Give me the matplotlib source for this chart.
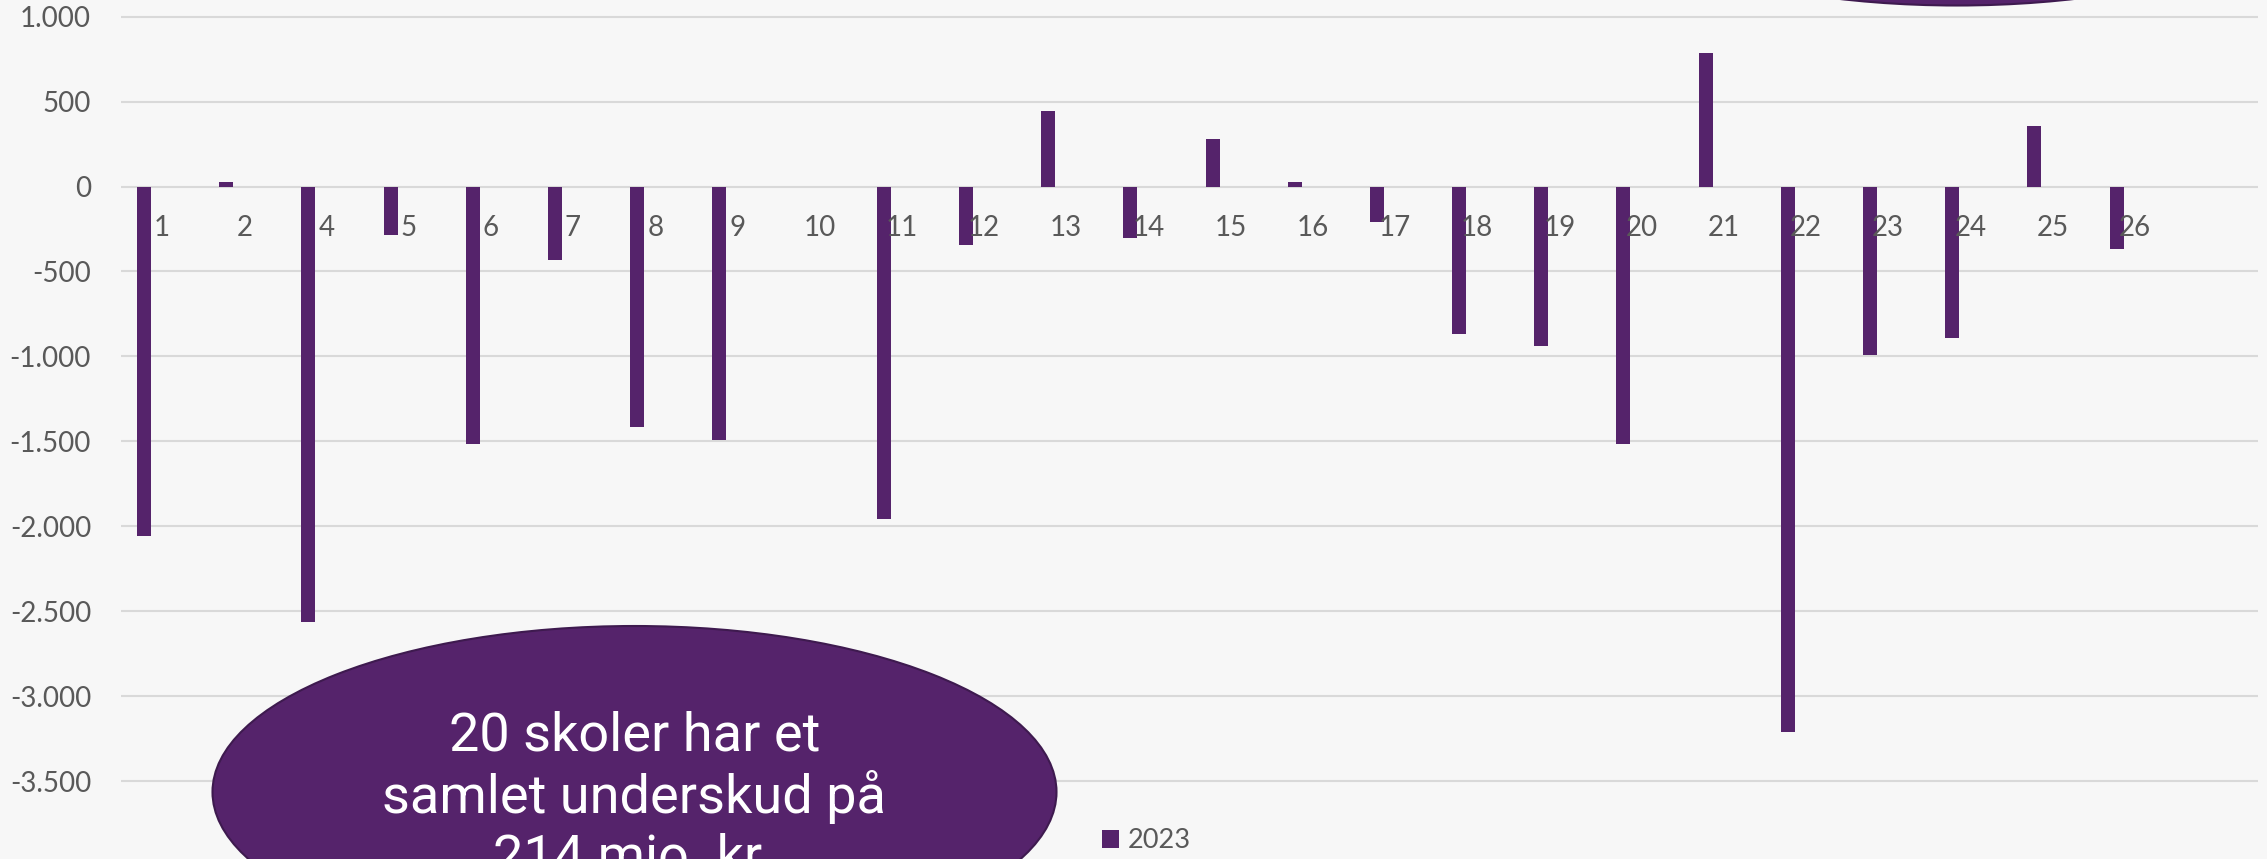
import numpy as np
import matplotlib.pyplot as plt
from matplotlib.patches import Ellipse

# skolenumre (3 mangler i originalen) og resultat 2023
skoler = ["1", "2", "4", "5", "6", "7", "8", "9", "10", "11", "12", "13", "14",
          "15", "16", "17", "18", "19", "20", "21", "22", "23", "24", "25", "26"]
aar_2023 = [-2056, 25, -2562, -285, -1518, -432, -1418, -1494, 0, -1960, -342, 444,
            -302, 280, 27, -207, -869, -937, -1513, 784, -3213, -992, -892, 357, -370]
y_ticks = list(range(-3500, 1001, 500))

lilla = "#55236B"
lilla_kant = "#3E1A4F"
tekst_graa = "#595959"
baggrund = "#F7F7F7"

plt.rcParams['font.family'] = ['Lato', 'DejaVu Sans']

W, H = 2267, 859
fig = plt.figure(figsize=(W / 100, H / 100), dpi=100, facecolor=baggrund)
ax = fig.add_axes([121 / W, 0, (2258 - 121) / W, 1])
ax.set_facecolor(baggrund)

x = np.arange(len(skoler))
bars = ax.bar(x - 0.22, aar_2023, width=0.17, color=lilla, label="2023", zorder=3)

ax.set_xlim(-0.5, len(skoler) + 0.5)
ax.set_ylim(-3959, 1098)
ax.set_yticks(y_ticks)
ax.set_yticklabels([f"{v:,}".replace(",", ".") for v in y_ticks])
ax.tick_params(axis='y', length=0, pad=21.6, labelsize=20, labelcolor=tekst_graa)
ax.set_xticks([])
ax.grid(axis='y', color='#D9D9D9', linewidth=1.5, zorder=0)
for s in ax.spines.values():
    s.set_visible(False)

# kategorinavne ved nul-linjen
for i, navn in enumerate(skoler):
    ax.text(i, -244, navn, ha='center', va='center', fontsize=20, color=tekst_graa, zorder=4)

# ellipser med tekst
e1 = Ellipse((634.5 / W, 1 - 792 / H), 844 / W, 332 / H, transform=fig.transFigure,
             facecolor=lilla, edgecolor=lilla_kant, linewidth=1.5, zorder=5)
fig.add_artist(e1)
fig.text(634.5 / W, 1 - 797 / H, "20 skoler har et\nsamlet underskud på\n214 mio. kr.",
         ha='center', va='center', color='white', fontsize=39,
         family=['Roboto', 'DejaVu Sans'], linespacing=1.2, zorder=6)

e2 = Ellipse((1957 / W, 1 + 160.5 / H), 844 / W, 332 / H, transform=fig.transFigure,
             facecolor=lilla, edgecolor=lilla_kant, linewidth=1.5, zorder=5)
fig.add_artist(e2)

fig.legend(handles=[bars], labels=["2023"], loc='center',
           bbox_to_anchor=(1146 / W, 1 - 841 / H), frameon=False, fontsize=19.5,
           handlelength=0.65, handleheight=0.65, handletextpad=0.3, labelcolor=tekst_graa)

fig.savefig("out.png", dpi=100, facecolor=baggrund)
